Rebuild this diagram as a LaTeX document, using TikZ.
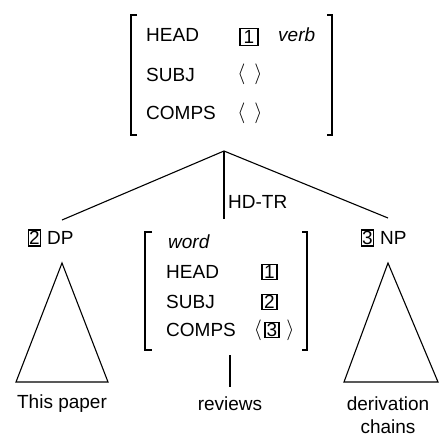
\documentclass[tikz,border=0pt]{standalone}
\usepackage{fontspec}
\setmainfont{Liberation Sans}
\newcommand{\tagnum}[1]{\fontsize{19}{20}\selectfont #1}
\begin{document}
\begin{tikzpicture}[x=1pt,y=-1pt,
  txt/.style={inner sep=0pt,anchor=west,font=\fontsize{19}{21}\selectfont},
  ctxt/.style={inner sep=0pt,font=\fontsize{19}{21}\selectfont},
  boxtag/.style={draw,line width=1.1pt,inner sep=0.5pt,minimum width=15pt,minimum height=15pt},
  ln/.style={line width=1.1pt},
  ang/.style={inner sep=0pt,font=\fontsize{20.74}{22}\selectfont}]
\useasboundingbox (0,0) rectangle (445,439);
% top AVM
\draw[ln] (137,15) -- (131,15) -- (131,135) -- (137,135);
\draw[ln] (327,15) -- (332,15) -- (332,135) -- (327,135);
\node[txt] (thead) at (146,35) {HEAD};
\node[txt] (tsubj) at (146,75) {SUBJ};
\node[txt] (tcomps) at (146,113) {COMPS};
\node[boxtag,minimum width=18pt,minimum height=17pt] (t1) at (249,37) {\tagnum{1}};
\node[txt] (tverb) at (278,35) {\itshape verb};
\node[ang] (tsl) at (241.5,74) {$\langle$};
\node[ang] (tsr) at (258.5,74) {$\rangle$};
\node[ang] (tcl) at (241.5,113) {$\langle$};
\node[ang] (tcr) at (258.5,113) {$\rangle$};
% tree
\coordinate (apex) at (224,151);
\coordinate (lend) at (62,220);
\coordinate (mend) at (224,219);
\coordinate (rend) at (388,218);
\draw[ln] (apex) -- (lend);
\draw[ln] (apex) -- (mend);
\draw[ln] (apex) -- (rend);
\node[txt] (hdtr) at (228,202) {HD-TR};
% DP
\node[boxtag,minimum width=12pt,minimum height=16pt] (t2) at (34.5,238) {\tagnum{2}};
\node[txt] (dp) at (47,238) {DP};
\draw[ln] (62,263) -- (16,382) -- (108,382) -- cycle;
\node[ctxt] (thispaper) at (62,404) {This paper};
% NP
\node[boxtag,minimum width=12pt,minimum height=16pt] (t3) at (367.5,238) {\tagnum{3}};
\node[txt] (np) at (380,238) {NP};
\draw[ln] (388,263) -- (344,382) -- (438,382) -- cycle;
\node[ctxt] (deriv) at (388,404) {derivation};
\node[ctxt] (chains) at (388,427) {chains};
% middle AVM
\draw[ln] (152,232) -- (145,232) -- (145,350) -- (152,350);
\draw[ln] (302,232) -- (307,232) -- (307,350) -- (302,350);
\node[txt] (mword) at (168,242) {\itshape word};
\node[txt] (mhead) at (166,272) {HEAD};
\node[txt] (msubj) at (166,302) {SUBJ};
\node[txt] (mcomps) at (166,330) {COMPS};
\node[boxtag] (m1) at (269.5,272) {\tagnum{1}};
\node[boxtag] (m2) at (269.5,302) {\tagnum{2}};
\node[ang] (mla) at (258,330) {$\langle$};
\node[boxtag,minimum width=14pt] (m3) at (272,330) {\tagnum{3}};
\node[ang] (mra) at (290.5,330) {$\rangle$};
\coordinate (vtop) at (230,355);
\coordinate (vbot) at (230,387);
\node[ctxt] (reviews) at (230,404) {reviews};
\draw[ln] (vtop) -- (vbot);
\end{tikzpicture}
\end{document}
